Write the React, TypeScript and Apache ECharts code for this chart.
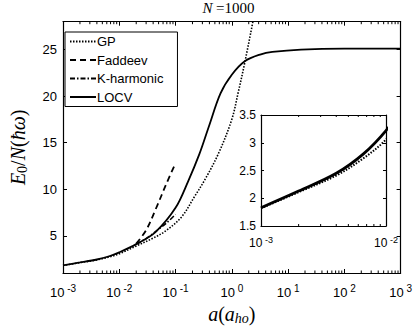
import React, { useEffect, useRef } from "react";
import * as echarts from "echarts";

// ---- data ----
const seriesNames = ["GP", "Faddeev", "K-harmonic", "LOCV"];

const gpA = [0.001, 0.002, 0.004, 0.0066, 0.01, 0.02, 0.04, 0.066, 0.127, 0.217, 0.345, 0.586, 1.0, 1.3, 1.7, 2.37];
const gpE = [1.82, 2.11, 2.41, 2.72, 3.06, 3.9, 4.75, 5.5, 7.0, 9.2, 11.2, 13.9, 17.5, 20.4, 23.6, 28];

const faddeevA = [0.02, 0.03, 0.044, 0.07, 0.1];
const faddeevE = [4.15, 5.6, 7.8, 10.7, 12.8];

const kharmA = [0.02, 0.03, 0.05, 0.07, 0.1];
const kharmE = [4.1, 4.7, 5.7, 6.4, 7.3];

const locvA = [0.001, 0.002, 0.004, 0.0066, 0.01, 0.02, 0.044, 0.1, 0.166, 0.264, 0.394, 0.63, 1.0, 1.7, 3.29, 5.25, 17, 100, 1000];
const locvE = [1.83, 2.13, 2.45, 2.8, 3.22, 4.1, 5.4, 8.0, 10.8, 13.74, 16.8, 20.3, 22.3, 23.75, 24.5, 24.75, 25.0, 25.1, 25.1];

const xTicks = [0.001, 0.01, 0.1, 1, 10, 100, 1000];
const yTicks = [5, 10, 15, 20, 25];
const insetXTicks = [0.001, 0.01];
const insetYTicks = [1.5, 2, 2.5, 3, 3.5];

const X_MIN = 0.001, X_MAX = 1000, Y_MIN = 1, Y_MAX = 28;
const IX_MIN = 0.001, IX_MAX = 0.01, IY_MIN = 1.5, IY_MAX = 3.5;

const zip = (a: number[], b: number[]) => a.map((v, i) => [v, b[i]]);

function minorTicks(lo: number, hi: number): number[] {
  const out: number[] = [];
  for (let d = lo; d < hi * 0.999; d *= 10) {
    for (let k = 2; k <= 9; k++) out.push(+(k * d).toPrecision(6));
  }
  return out;
}

const SANS = "Liberation Sans";
const SERIF = "Liberation Serif";

const supLabel = (v: number) => {
  const e = Math.round(Math.log10(v));
  return `{b|10}{s| ${e}}`;
};

export default function App() {
  const ref = useRef<HTMLDivElement>(null);
  useEffect(() => {
    const chart = echarts.init(ref.current!, null, { renderer: "svg" });

    const tickRender = (ymin: number, ymax: number, len: number) =>
      (params: any, api: any) => {
        const x = api.value(0);
        const b = api.coord([x, ymin]);
        const t = api.coord([x, ymax]);
        return {
          type: "group",
          children: [
            { type: "line", shape: { x1: b[0], y1: b[1], x2: b[0], y2: b[1] - len }, style: { stroke: "#000", lineWidth: 1 } },
            { type: "line", shape: { x1: t[0], y1: t[1], x2: t[0], y2: t[1] + len }, style: { stroke: "#000", lineWidth: 1 } },
          ],
        };
      };

    const axisBase = {
      axisLine: { show: true, onZero: false, lineStyle: { color: "#000", width: 1.2 } },
      splitLine: { show: false },
    };
    const richX = {
      b: { fontSize: 13, fontFamily: SANS, color: "#000" },
      s: { fontSize: 10, fontFamily: SANS, color: "#000", padding: [0, 0, 8, 0] },
    };
    const richXi = {
      b: { fontSize: 12, fontFamily: SANS, color: "#000" },
      s: { fontSize: 9, fontFamily: SANS, color: "#000", padding: [0, 0, 7, 0] },
    };
    const lineCommon = { type: "line", symbol: "none", smooth: 0.35, itemStyle: { color: "#000" } };

    const option: any = {
      animation: false,
      color: ["#000"],
      textStyle: { fontFamily: SANS },
      graphic: [
        {
          type: "text",
          x: 228.5,
          y: 8,
          style: {
            text: "{i|N} {r|=1000}",
            align: "center",
            verticalAlign: "middle",
            rich: {
              i: { fontFamily: SERIF, fontStyle: "italic", fontSize: 15, fill: "#000" },
              r: { fontFamily: SERIF, fontSize: 15, fill: "#000" },
            },
          },
        },
      ],
      legend: {
        data: seriesNames,
        left: 65,
        top: 32,
        orient: "vertical",
        borderColor: "#000",
        borderWidth: 1,
        backgroundColor: "#fff",
        padding: [3, 14, 3, 4],
        itemGap: 5.5,
        itemWidth: 26,
        itemHeight: 12,
        selectedMode: false,
        itemStyle: { opacity: 0 },
        textStyle: { fontSize: 13, color: "#000", fontFamily: SANS, padding: [0, 0, 0, -4] },
      },
      grid: [
        { left: 55, top: 21.7, width: 347, height: 252.6 },
        { left: 261, top: 115, width: 125, height: 111, show: true, backgroundColor: "#fff", borderWidth: 0 },
      ],
      xAxis: [
        {
          ...axisBase, type: "log", gridIndex: 0, min: X_MIN, max: X_MAX, position: "bottom",
          axisTick: { show: true, inside: true, length: 4, customValues: xTicks, lineStyle: { color: "#000" } },
          axisLabel: { customValues: xTicks, formatter: supLabel, margin: 10, rich: richX },
          name: "{i|a}{r|(}{i|a}{sub|ho}{r|)}",
          nameLocation: "middle",
          nameGap: 30,
          nameTextStyle: {
            rich: {
              i: { fontFamily: SERIF, fontStyle: "italic", fontSize: 20, color: "#000" },
              r: { fontFamily: SERIF, fontSize: 20, color: "#000" },
              sub: { fontFamily: SERIF, fontStyle: "italic", fontSize: 14, color: "#000", padding: [8, 0, 0, 0] },
            },
          },
        },
        {
          ...axisBase, type: "log", gridIndex: 0, min: X_MIN, max: X_MAX, position: "top",
          axisTick: { show: true, inside: true, length: 4, customValues: xTicks, lineStyle: { color: "#000" } },
          axisLabel: { show: false, customValues: xTicks },
        },
        {
          ...axisBase, type: "log", gridIndex: 1, min: IX_MIN, max: IX_MAX, position: "bottom",
          axisTick: { show: true, inside: true, length: 3, customValues: insetXTicks, lineStyle: { color: "#000" } },
          axisLabel: { customValues: insetXTicks, formatter: supLabel, margin: 9, rich: richXi },
        },
        {
          ...axisBase, type: "log", gridIndex: 1, min: IX_MIN, max: IX_MAX, position: "top",
          axisTick: { show: true, inside: true, length: 3, customValues: insetXTicks, lineStyle: { color: "#000" } },
          axisLabel: { show: false, customValues: insetXTicks },
        },
      ],
      yAxis: [
        {
          ...axisBase, type: "value", gridIndex: 0, min: Y_MIN, max: Y_MAX, position: "left",
          axisTick: { show: true, inside: true, length: 4, customValues: yTicks, lineStyle: { color: "#000" } },
          axisLabel: { customValues: yTicks, fontSize: 13, color: "#000", fontFamily: SANS, margin: 6 },
          name: "{i|E}{sub|0}{r|/}{i|N}{r|(}{i|ħω}{r|)}",
          nameLocation: "middle",
          nameGap: 34,
          nameRotate: 90,
          nameTextStyle: {
            rich: {
              i: { fontFamily: SERIF, fontStyle: "italic", fontSize: 20, color: "#000" },
              r: { fontFamily: SERIF, fontSize: 20, color: "#000" },
              sub: { fontFamily: SERIF, fontSize: 14, color: "#000", padding: [8, 0, 0, 0] },
            },
          },
        },
        {
          ...axisBase, type: "value", gridIndex: 0, min: Y_MIN, max: Y_MAX, position: "right",
          axisTick: { show: true, inside: true, length: 4, customValues: yTicks, lineStyle: { color: "#000" } },
          axisLabel: { show: false, customValues: yTicks },
        },
        {
          ...axisBase, type: "value", gridIndex: 1, min: IY_MIN, max: IY_MAX, interval: 0.5, position: "left",
          axisTick: { show: true, inside: true, length: 3, customValues: insetYTicks, lineStyle: { color: "#000" } },
          axisLabel: { customValues: insetYTicks, fontSize: 12, color: "#000", fontFamily: SANS, margin: 5 },
        },
        {
          ...axisBase, type: "value", gridIndex: 1, min: IY_MIN, max: IY_MAX, interval: 0.5, position: "right",
          axisTick: { show: true, inside: true, length: 3, customValues: insetYTicks, lineStyle: { color: "#000" } },
          axisLabel: { show: false, customValues: insetYTicks },
        },
      ],
      series: [
        {
          ...lineCommon, name: "GP", xAxisIndex: 0, yAxisIndex: 0, data: zip(gpA, gpE),
          lineStyle: { color: "#000", width: 1.6, type: [1.5, 1.5] }, z: 3,
        },
        {
          ...lineCommon, name: "Faddeev", xAxisIndex: 0, yAxisIndex: 0, data: zip(faddeevA, faddeevE),
          lineStyle: { color: "#000", width: 1.8, type: [6, 4] }, z: 3,
        },
        {
          ...lineCommon, name: "K-harmonic", xAxisIndex: 0, yAxisIndex: 0, data: zip(kharmA, kharmE),
          lineStyle: { color: "#000", width: 1.6, type: [5, 2, 1.5, 2] }, z: 3,
        },
        {
          ...lineCommon, name: "LOCV", xAxisIndex: 0, yAxisIndex: 0, data: zip(locvA, locvE),
          lineStyle: { color: "#000", width: 1.8, type: "solid" }, z: 3,
        },
        {
          ...lineCommon, name: "GP inset", xAxisIndex: 2, yAxisIndex: 2, data: zip(gpA, gpE),
          lineStyle: { color: "#000", width: 2, type: [1.5, 1.5] }, z: 4,
        },
        {
          ...lineCommon, name: "LOCV inset", xAxisIndex: 2, yAxisIndex: 2, data: zip(locvA, locvE),
          lineStyle: { color: "#000", width: 2.8, type: "solid" }, z: 4,
        },
        {
          name: "minor main", type: "custom", xAxisIndex: 0, yAxisIndex: 0, clip: false, silent: true,
          data: minorTicks(X_MIN, X_MAX).map((v) => [v, Y_MIN]),
          renderItem: tickRender(Y_MIN, Y_MAX, 2.5), z: 5,
        },
        {
          name: "minor inset", type: "custom", xAxisIndex: 2, yAxisIndex: 2, clip: false, silent: true,
          data: minorTicks(IX_MIN, IX_MAX).map((v) => [v, IY_MIN]),
          renderItem: tickRender(IY_MIN, IY_MAX, 2), z: 5,
        },
      ],
    };
    chart.setOption(option);
    return () => chart.dispose();
  }, []);
  return (
    <div
      ref={ref}
      style={{ position: "fixed", left: 0, top: 0, width: 415, height: 330, background: "#fff" }}
    />
  );
}
